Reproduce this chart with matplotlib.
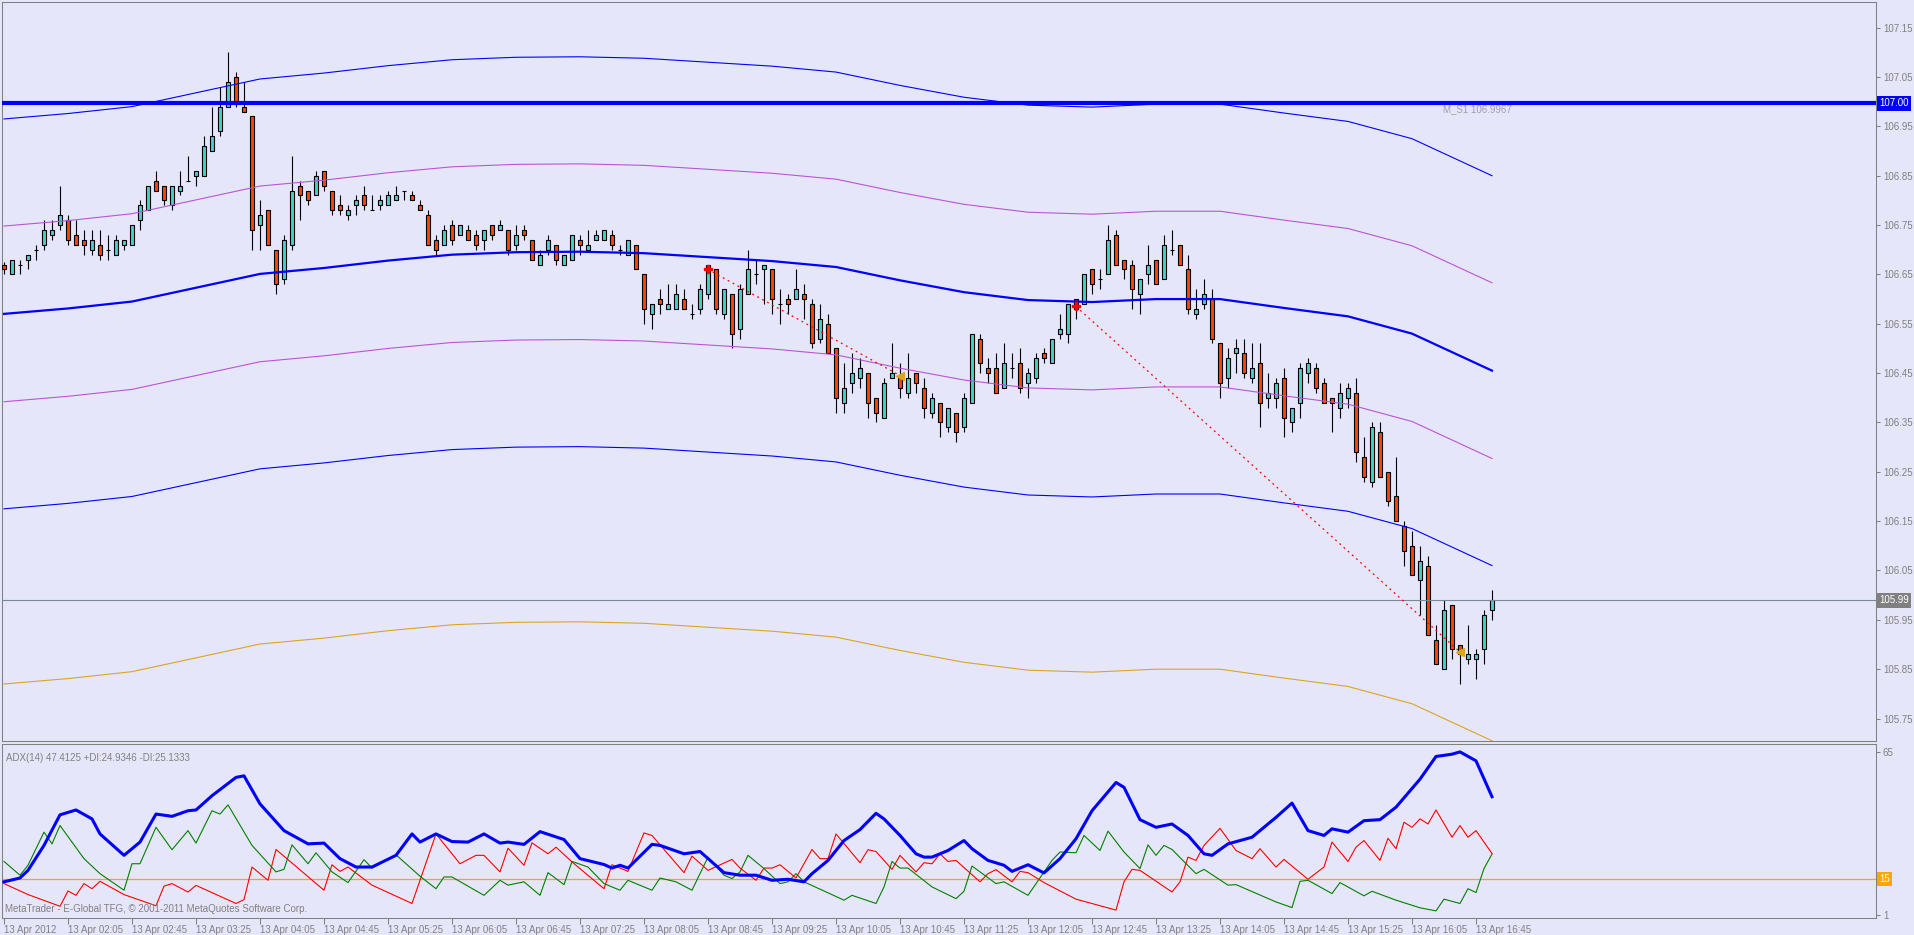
#!/usr/bin/python3

import matplotlib
matplotlib.use("Agg")
import matplotlib.pyplot as plt
import numpy as np
from matplotlib.transforms import blended_transform_factory

# USDJPY M5, 13 Apr 2012, bars 01:25 .. 16:55
opens = [
    106.67, 106.65, 106.67, 106.68, 106.70, 106.71, 106.73, 106.75, 106.76, 106.73,
    106.72, 106.70, 106.71, 106.70, 106.69, 106.71, 106.71, 106.76, 106.78, 106.84,
    106.83, 106.79, 106.82, 106.84, 106.85, 106.85, 106.90, 106.94, 106.99, 107.05,
    106.99, 106.97, 106.75, 106.78, 106.70, 106.64, 106.71, 106.83, 106.82, 106.81,
    106.86, 106.82, 106.79, 106.77, 106.79, 106.81, 106.78, 106.79, 106.79, 106.80,
    106.82, 106.81, 106.79, 106.77, 106.72, 106.71, 106.75, 106.73, 106.74, 106.73,
    106.72, 106.75, 106.74, 106.74, 106.71, 106.74, 106.72, 106.67, 106.70, 106.71,
    106.67, 106.68, 106.72, 106.70, 106.72, 106.72, 106.73, 106.70, 106.69, 106.71,
    106.65, 106.57, 106.60, 106.58, 106.58, 106.60, 106.57, 106.58, 106.61, 106.66,
    106.57, 106.61, 106.54, 106.61, 106.65, 106.66, 106.66, 106.59, 106.60, 106.60,
    106.61, 106.59, 106.52, 106.55, 106.50, 106.39, 106.43, 106.44, 106.45, 106.40,
    106.36, 106.44, 106.44, 106.41, 106.45, 106.42, 106.37, 106.39, 106.34, 106.37,
    106.34, 106.39, 106.52, 106.46, 106.46, 106.42, 106.46, 106.47, 106.43, 106.44,
    106.49, 106.47, 106.53, 106.53, 106.60, 106.59, 106.66, 106.64, 106.65, 106.73,
    106.68, 106.67, 106.61, 106.65, 106.68, 106.64, 106.70, 106.71, 106.66, 106.57,
    106.59, 106.60, 106.51, 106.44, 106.49, 106.49, 106.44, 106.47, 106.40, 106.40,
    106.44, 106.35, 106.39, 106.45, 106.46, 106.43, 106.40, 106.38, 106.40, 106.41,
    106.28, 106.23, 106.33, 106.25, 106.20, 106.14, 106.10, 106.03, 106.06, 105.91,
    105.85, 105.98, 105.90, 105.87, 105.87, 105.89, 105.97]
highs = [
    106.675, 106.68, 106.68, 106.69, 106.71, 106.76, 106.76, 106.83, 106.77, 106.76,
    106.74, 106.74, 106.74, 106.73, 106.73, 106.72, 106.75, 106.80, 106.83, 106.86,
    106.83, 106.83, 106.86, 106.89, 106.86, 106.93, 106.99, 107.03, 107.10, 107.06,
    107.04, 106.97, 106.80, 106.78, 106.70, 106.73, 106.89, 106.84, 106.82, 106.86,
    106.86, 106.82, 106.81, 106.79, 106.81, 106.83, 106.81, 106.81, 106.82, 106.83,
    106.82, 106.82, 106.80, 106.78, 106.73, 106.75, 106.76, 106.75, 106.75, 106.74,
    106.74, 106.75, 106.76, 106.74, 106.75, 106.75, 106.72, 106.70, 106.73, 106.71,
    106.69, 106.73, 106.73, 106.74, 106.74, 106.74, 106.74, 106.71, 106.72, 106.71,
    106.65, 106.59, 106.62, 106.63, 106.63, 106.62, 106.59, 106.63, 106.67, 106.66,
    106.62, 106.61, 106.63, 106.70, 106.68, 106.67, 106.66, 106.62, 106.61, 106.66,
    106.63, 106.60, 106.59, 106.57, 106.50, 106.47, 106.49, 106.48, 106.45, 106.40,
    106.44, 106.51, 106.47, 106.49, 106.45, 106.44, 106.41, 106.39, 106.38, 106.37,
    106.41, 106.53, 106.53, 106.48, 106.49, 106.51, 106.49, 106.50, 106.46, 106.49,
    106.50, 106.52, 106.57, 106.59, 106.60, 106.65, 106.66, 106.66, 106.75, 106.74,
    106.68, 106.68, 106.64, 106.71, 106.68, 106.73, 106.74, 106.71, 106.69, 106.62,
    106.64, 106.62, 106.51, 106.50, 106.52, 106.52, 106.51, 106.51, 106.45, 106.44,
    106.46, 106.38, 106.47, 106.48, 106.47, 106.44, 106.40, 106.43, 106.43, 106.44,
    106.32, 106.35, 106.35, 106.25, 106.28, 106.15, 106.13, 106.10, 106.08, 105.94,
    105.99, 105.98, 105.90, 105.94, 105.89, 105.97, 106.01]
lows = [
    106.65, 106.65, 106.65, 106.66, 106.68, 106.70, 106.72, 106.74, 106.71, 106.71,
    106.69, 106.69, 106.68, 106.68, 106.69, 106.70, 106.71, 106.74, 106.78, 106.82,
    106.79, 106.78, 106.81, 106.84, 106.83, 106.85, 106.90, 106.93, 106.99, 106.99,
    106.98, 106.70, 106.70, 106.71, 106.61, 106.63, 106.70, 106.76, 106.79, 106.81,
    106.82, 106.77, 106.77, 106.76, 106.77, 106.78, 106.78, 106.78, 106.79, 106.80,
    106.80, 106.80, 106.78, 106.71, 106.69, 106.71, 106.71, 106.73, 106.72, 106.70,
    106.70, 106.72, 106.74, 106.69, 106.70, 106.72, 106.68, 106.67, 106.69, 106.67,
    106.67, 106.68, 106.69, 106.70, 106.72, 106.72, 106.70, 106.69, 106.69, 106.66,
    106.55, 106.54, 106.57, 106.58, 106.58, 106.58, 106.56, 106.57, 106.60, 106.57,
    106.56, 106.50, 106.52, 106.61, 106.63, 106.59, 106.57, 106.55, 106.57, 106.60,
    106.56, 106.50, 106.51, 106.49, 106.37, 106.37, 106.41, 106.42, 106.36, 106.35,
    106.36, 106.44, 106.40, 106.40, 106.41, 106.36, 106.36, 106.32, 106.33, 106.31,
    106.33, 106.39, 106.45, 106.43, 106.41, 106.42, 106.44, 106.41, 106.40, 106.43,
    106.47, 106.47, 106.52, 106.51, 106.56, 106.59, 106.61, 106.62, 106.65, 106.67,
    106.64, 106.58, 106.57, 106.63, 106.63, 106.64, 106.69, 106.67, 106.57, 106.56,
    106.58, 106.51, 106.40, 106.42, 106.45, 106.44, 106.43, 106.34, 106.38, 106.38,
    106.32, 106.33, 106.36, 106.43, 106.41, 106.39, 106.33, 106.36, 106.38, 106.27,
    106.23, 106.22, 106.24, 106.18, 106.15, 106.06, 106.04, 105.96, 105.92, 105.86,
    105.85, 105.87, 105.82, 105.86, 105.83, 105.86, 105.95]
closes = [
    106.66, 106.68, 106.67, 106.69, 106.70, 106.74, 106.74, 106.77, 106.72, 106.71,
    106.71, 106.72, 106.69, 106.70, 106.72, 106.72, 106.75, 106.79, 106.83, 106.82,
    106.80, 106.83, 106.83, 106.84, 106.86, 106.91, 106.93, 106.99, 107.04, 107.00,
    106.98, 106.74, 106.77, 106.71, 106.63, 106.72, 106.82, 106.81, 106.80, 106.85,
    106.83, 106.78, 106.78, 106.78, 106.80, 106.79, 106.78, 106.80, 106.81, 106.81,
    106.82, 106.80, 106.78, 106.71, 106.70, 106.74, 106.72, 106.75, 106.72, 106.71,
    106.74, 106.73, 106.75, 106.70, 106.73, 106.73, 106.68, 106.69, 106.72, 106.68,
    106.69, 106.73, 106.71, 106.71, 106.73, 106.74, 106.71, 106.70, 106.72, 106.66,
    106.58, 106.59, 106.59, 106.59, 106.61, 106.58, 106.57, 106.62, 106.67, 106.58,
    106.62, 106.53, 106.62, 106.66, 106.65, 106.67, 106.60, 106.59, 106.59, 106.62,
    106.60, 106.51, 106.56, 106.49, 106.40, 106.42, 106.45, 106.46, 106.39, 106.37,
    106.43, 106.45, 106.42, 106.44, 106.43, 106.38, 106.40, 106.35, 106.38, 106.33,
    106.40, 106.53, 106.47, 106.45, 106.41, 106.47, 106.46, 106.42, 106.45, 106.48,
    106.48, 106.52, 106.54, 106.59, 106.58, 106.65, 106.63, 106.64, 106.72, 106.67,
    106.66, 106.62, 106.64, 106.67, 106.63, 106.71, 106.70, 106.67, 106.58, 106.58,
    106.61, 106.52, 106.43, 106.48, 106.50, 106.45, 106.46, 106.39, 106.41, 106.43,
    106.36, 106.38, 106.46, 106.47, 106.42, 106.39, 106.39, 106.41, 106.42, 106.29,
    106.24, 106.34, 106.24, 106.19, 106.15, 106.09, 106.04, 106.07, 105.92, 105.86,
    105.97, 105.89, 105.88, 105.88, 105.88, 105.96, 105.99]

time_label_bars = [0, 8, 16, 24, 32, 40, 48, 56, 64, 72, 80, 88,
                   96, 104, 112, 120, 128, 136, 144, 152, 160, 168, 176, 184]
time_labels = ["13 Apr 2012", "13 Apr 02:05", "13 Apr 02:45", "13 Apr 03:25",
               "13 Apr 04:05", "13 Apr 04:45", "13 Apr 05:25", "13 Apr 06:05",
               "13 Apr 06:45", "13 Apr 07:25", "13 Apr 08:05", "13 Apr 08:45",
               "13 Apr 09:25", "13 Apr 10:05", "13 Apr 10:45", "13 Apr 11:25",
               "13 Apr 12:05", "13 Apr 12:45", "13 Apr 13:25", "13 Apr 14:05",
               "13 Apr 14:45", "13 Apr 15:25", "13 Apr 16:05", "13 Apr 16:45"]

price_ticks = [105.75, 105.85, 105.95, 106.05, 106.15, 106.25, 106.35,
               106.45, 106.55, 106.65, 106.75, 106.85, 106.95, 107.05, 107.15]

# channel lines, read every 8 bars
band_bars = [0, 8, 16, 24, 32, 40, 48, 56, 64, 72, 80, 88, 96,
             104, 112, 120, 128, 136, 144, 152, 160, 168, 176, 184, 186]
band_mid = [106.570, 106.581, 106.595, 106.623, 106.651, 106.663, 106.678,
            106.690, 106.695, 106.696, 106.693, 106.685, 106.677, 106.665,
            106.638, 106.614, 106.598, 106.594, 106.600, 106.600, 106.582,
            106.565, 106.530, 106.470, 106.455]
band_up2 = [106.965, 106.976, 106.990, 107.018, 107.046, 107.058, 107.073,
            107.085, 107.090, 107.091, 107.088, 107.080, 107.072, 107.060,
            107.033, 107.009, 106.993, 106.989, 106.995, 106.995, 106.977,
            106.960, 106.925, 106.865, 106.850]
band_up1 = [106.748, 106.759, 106.773, 106.801, 106.829, 106.841, 106.856,
            106.868, 106.873, 106.874, 106.871, 106.863, 106.855, 106.843,
            106.816, 106.792, 106.776, 106.772, 106.778, 106.778, 106.760,
            106.743, 106.708, 106.648, 106.633]
band_dn1 = [106.392, 106.403, 106.417, 106.445, 106.473, 106.485, 106.500,
            106.512, 106.517, 106.518, 106.515, 106.507, 106.499, 106.487,
            106.460, 106.436, 106.420, 106.416, 106.422, 106.422, 106.404,
            106.387, 106.352, 106.292, 106.277]
band_dn2 = [106.175, 106.186, 106.200, 106.228, 106.256, 106.268, 106.283,
            106.295, 106.300, 106.301, 106.298, 106.290, 106.282, 106.270,
            106.243, 106.219, 106.203, 106.199, 106.205, 106.205, 106.187,
            106.170, 106.135, 106.075, 106.060]
band_dn3 = [105.820, 105.831, 105.845, 105.873, 105.901, 105.913, 105.928,
            105.940, 105.945, 105.946, 105.943, 105.935, 105.927, 105.915,
            105.888, 105.864, 105.848, 105.844, 105.850, 105.850, 105.832,
            105.815, 105.780, 105.720, 105.705]

s1_level = 106.9967
bid_price = 105.99

trade_open_bar = [88, 134]
trade_open_price = [106.66, 106.585]
trade_close_bar = [112, 182]
trade_close_price = [106.445, 105.885]

# ADX(14) panel
adx_bars = [0, 2, 3, 5, 7, 9, 11, 12, 15, 17, 19, 21, 23, 24, 26, 29, 30, 32,
            35, 38, 40, 42, 44, 46, 49, 51, 52, 54, 56, 58, 60, 62, 63, 65, 67,
            70, 72, 75, 76, 77, 78, 81, 82, 85, 87, 90, 92, 94, 96, 98, 100,
            101, 103, 105, 107, 109, 110, 112, 114, 115, 116, 118, 120, 121,
            123, 125, 126, 128, 130, 132, 134, 136, 139, 140, 142, 144, 146,
            148, 150, 151, 153, 156, 159, 161, 163, 165, 166, 168, 170, 172,
            174, 177, 179, 181, 182, 184, 186]
adx_values = [14.0, 15.5, 18.5, 28.3, 40.3, 42.2, 38.7, 32.8, 24.4, 29.6, 40.6,
              39.7, 41.9, 42.2, 47.8, 55.0, 55.6, 44.6, 34.1, 28.9, 29.2, 23.1,
              19.8, 19.8, 24.4, 32.8, 29.6, 32.8, 29.8, 29.6, 32.8, 29.2, 29.6,
              28.7, 33.7, 30.6, 23.1, 20.8, 19.4, 20.5, 19.4, 28.7, 28.3, 25.0,
              25.9, 17.6, 16.6, 16.6, 14.6, 15.0, 14.0, 17.2, 22.4, 30.2, 34.5,
              40.9, 38.7, 32.2, 25.0, 23.7, 23.7, 26.3, 30.2, 27.0, 22.4, 20.5,
              18.1, 20.7, 17.5, 23.1, 30.9, 41.9, 53.0, 51.1, 38.4, 35.4, 36.7,
              32.2, 25.0, 24.4, 28.9, 31.5, 39.3, 44.9, 34.1, 32.2, 34.8, 33.5,
              38.0, 38.4, 43.3, 54.3, 63.2, 64.1, 65.0, 61.5, 47.4]
pdi_bars = [0, 2, 3, 5, 6, 7, 10, 12, 15, 16, 17, 19, 21, 23, 24, 26, 27, 28,
            31, 34, 35, 36, 38, 39, 41, 43, 45, 46, 49, 52, 54, 55, 56, 60, 62,
            63, 65, 67, 68, 70, 71, 73, 75, 77, 78, 81, 82, 84, 86, 88, 90, 91,
            92, 93, 95, 97, 98, 99, 100, 105, 106, 109, 110, 111, 112, 113,
            116, 119, 120, 121, 124, 125, 128, 131, 132, 134, 135, 137, 138,
            140, 142, 143, 144, 145, 146, 149, 150, 153, 154, 159, 161, 162,
            163, 166, 167, 170, 171, 174, 177, 179, 180, 182, 183, 184, 185, 186]
pdi_values = [22.0, 16.6, 20.5, 33.5, 28.9, 36.1, 23.1, 17.2, 10.7, 21.1, 21.1,
              35.4, 26.6, 34.1, 29.2, 41.9, 40.6, 44.2, 28.3, 17.9, 18.9, 28.5,
              21.1, 25.4, 17.9, 13.7, 22.7, 19.4, 24.6, 16.2, 11.3, 15.9, 15.9,
              8.7, 14.6, 12.7, 14.0, 8.7, 17.6, 12.9, 22.0, 19.8, 13.3, 10.7,
              14.6, 10.7, 15.5, 14.0, 10.7, 23.7, 16.6, 15.3, 17.9, 24.4, 19.2,
              13.3, 14.0, 17.2, 14.0, 6.8, 8.7, 5.5, 12.0, 22.0, 19.4, 19.4,
              12.0, 7.4, 10.3, 20.2, 13.3, 14.0, 8.7, 22.4, 25.7, 25.4, 32.2,
              26.3, 33.9, 25.7, 19.2, 28.5, 24.4, 28.3, 26.7, 17.2, 18.9, 12.7,
              12.9, 6.1, 3.9, 14.2, 14.6, 9.4, 13.7, 8.5, 10.3, 6.8, 3.8, 2.6,
              7.2, 5.5, 11.3, 9.8, 19.2, 24.9]
mdi_bars = [0, 3, 7, 8, 9, 10, 11, 12, 15, 19, 20, 21, 23, 24, 29, 30, 31, 33,
            34, 40, 41, 42, 43, 46, 51, 54, 57, 59, 60, 62, 63, 65, 66, 68, 69,
            71, 75, 76, 78, 80, 81, 85, 86, 88, 91, 92, 94, 95, 96, 97, 99,
            101, 102, 103, 104, 107, 108, 109, 111, 112, 114, 115, 116, 117,
            118, 119, 122, 123, 124, 126, 127, 128, 130, 134, 139, 140, 141,
            142, 146, 147, 148, 149, 150, 152, 154, 156, 157, 159, 160, 163,
            165, 166, 168, 169, 170, 172, 173, 174, 175, 176, 177, 178, 179,
            181, 182, 183, 184, 186]
mdi_values = [13.3, 9.0, 4.4, 10.4, 8.7, 13.3, 11.3, 14.2, 9.0, 4.6, 12.3, 13.3,
              10.0, 12.6, 5.5, 7.0, 19.8, 14.6, 26.7, 10.7, 20.7, 18.1, 19.8,
              12.7, 5.5, 32.8, 21.1, 24.4, 24.4, 17.9, 27.2, 20.5, 29.3, 25.0,
              27.6, 21.8, 11.3, 20.7, 18.1, 33.2, 32.2, 17.6, 24.1, 18.5, 22.8,
              19.4, 14.6, 19.4, 19.4, 20.7, 15.5, 26.7, 23.1, 23.1, 32.8, 21.5,
              26.6, 25.9, 18.9, 24.4, 17.9, 21.5, 21.1, 25.0, 22.0, 22.4, 14.0,
              17.2, 18.8, 14.0, 18.1, 17.6, 13.7, 7.2, 2.9, 14.0, 18.9, 18.5,
              10.0, 14.0, 23.7, 22.4, 28.3, 35.0, 26.3, 23.1, 27.0, 19.8, 22.8,
              15.0, 19.8, 29.6, 22.0, 27.6, 30.2, 22.4, 31.1, 27.0, 37.4, 35.4,
              38.7, 36.7, 42.2, 31.5, 36.1, 31.5, 34.1, 25.1]
adx_level = 15
adx_ticks = [1, 65]

W, H = 1914, 935
BG = "#E6E6FA"
GREY = "#808080"
FONT = "Liberation Sans"
FS = 7


def px_axes(left, top, right, bottom):
    return [left / W, 1 - bottom / H, (right - left) / W, (bottom - top) / H]


def style_axes(ax):
    ax.set_facecolor(BG)
    for s in ax.spines.values():
        s.set_color(GREY)
        s.set_linewidth(0.75)
    ax.yaxis.tick_right()
    ax.tick_params(axis="y", direction="out", length=3, width=0.75,
                   colors=GREY, labelsize=FS, pad=2)


def main():
    o = np.array(opens)
    h = np.array(highs)
    l = np.array(lows)
    c = np.array(closes)
    idx = np.arange(len(o))

    fig = plt.figure(figsize=(W / 100, H / 100), dpi=100, facecolor=BG)
    ax = fig.add_axes(px_axes(2, 2, 1876, 741))
    ax2 = fig.add_axes(px_axes(2, 744, 1876, 918), sharex=ax)

    # candles
    up = c > o
    dn = c < o
    eq = c == o
    ax.vlines(idx, l, h, color="black", lw=0.8, zorder=2)
    ax.bar(idx[up], (c - o)[up], bottom=o[up], width=0.62, color="#48D1CC",
           edgecolor="black", linewidth=0.8, zorder=3)
    ax.bar(idx[dn], (o - c)[dn], bottom=c[dn], width=0.62, color="#FF4500",
           edgecolor="black", linewidth=0.8, zorder=3)
    ax.hlines(o[eq], idx[eq] - 0.31, idx[eq] + 0.31, color="black", lw=0.8,
              zorder=3)

    # channel
    ax.plot(band_bars, band_up2, color="#0000FF", lw=0.8, zorder=5)
    ax.plot(band_bars, band_up1, color="#BA55D3", lw=0.8, zorder=5)
    ax.plot(band_bars, band_mid, color="#0000FF", lw=1.6, zorder=5)
    ax.plot(band_bars, band_dn1, color="#BA55D3", lw=0.8, zorder=5)
    ax.plot(band_bars, band_dn2, color="#0000FF", lw=0.8, zorder=5)
    ax.plot(band_bars, band_dn3, color="#DAA520", lw=0.8, zorder=5)

    ax.axhline(s1_level, color="#0000FF", lw=3, zorder=6)
    ax.axhline(bid_price, color="#778899", lw=0.8, zorder=6)
    ax.text(179.9, 106.985, "M_S1 106.9967", color="#A0A0A0", fontsize=FS,
            family=FONT, va="center", ha="left", zorder=7)

    # trade history
    for ob, op, cb, cp in zip(trade_open_bar, trade_open_price,
                              trade_close_bar, trade_close_price):
        ax.plot([ob, cb], [op, cp], color="#FF0000", lw=0.9,
                linestyle=(0, (1.5, 3)), zorder=6)
        ax.plot(ob, op, marker="P", color="#FF0000", markersize=6, zorder=7)
        ax.plot(cb, cp, marker="<", color="#DAA520", markersize=6, zorder=7)

    ax.set_xlim(-0.25, 234)
    ax.set_ylim(105.7045, 107.202)
    style_axes(ax)
    ax.set_yticks(price_ticks)
    ax.set_yticklabels(["%.2f" % p for p in price_ticks], family=FONT)
    ax.tick_params(axis="x", bottom=False, labelbottom=False)

    tr = blended_transform_factory(ax.transAxes, ax.transData)
    ax.text(1.0 + 3 / 1874, s1_level, "107.00", transform=tr, color="white",
            fontsize=FS, family=FONT, va="center", ha="left", zorder=10,
            bbox=dict(boxstyle="square,pad=0.25", fc="#0000FF", ec="none"))
    ax.text(1.0 + 3 / 1874, bid_price, "%.2f" % bid_price, transform=tr,
            color="white", fontsize=FS, family=FONT, va="center", ha="left",
            zorder=10,
            bbox=dict(boxstyle="square,pad=0.25", fc=GREY, ec="none"))

    # ADX panel
    ax2.plot(mdi_bars, mdi_values, color="#FF0000", lw=0.8, zorder=3)
    ax2.plot(pdi_bars, pdi_values, color="#008000", lw=0.8, zorder=3)
    ax2.plot(adx_bars, adx_values, color="#0000FF", lw=2.2, zorder=4)
    ax2.axhline(adx_level, color="#FFA500", lw=0.9, zorder=2)
    ax2.set_ylim(-0.2, 68.1)
    style_axes(ax2)
    ax2.set_yticks(adx_ticks)
    ax2.set_yticklabels([str(t) for t in adx_ticks], family=FONT)
    tr2 = blended_transform_factory(ax2.transAxes, ax2.transData)
    ax2.text(1.0 + 3 / 1874, adx_level, str(adx_level), transform=tr2,
             color="white", fontsize=FS, family=FONT, va="center",
             ha="left", zorder=10,
             bbox=dict(boxstyle="square,pad=0.2", fc="#FFA500", ec="none"))

    ax2.text(0.002, 0.92, "ADX(14) 47.4125 +DI:24.9346 -DI:25.1333",
             transform=ax2.transAxes, color=GREY, fontsize=FS, family=FONT,
             va="center", ha="left")
    ax2.text(0.0016, 0.05,
             "MetaTrader - E-Global TFG, \u00a9 2001-2011 MetaQuotes Software Corp.",
             transform=ax2.transAxes, color=GREY, fontsize=FS, family=FONT,
             va="center", ha="left")

    ax2.set_xticks(time_label_bars)
    ax2.set_xticklabels(time_labels, family=FONT)
    ax2.tick_params(axis="x", direction="out", length=4, width=0.75,
                    colors=GREY, labelsize=FS, pad=1)
    plt.setp(ax2.get_xticklabels(), ha="left")

    fig.savefig("out.png", dpi=100, facecolor=BG)


if __name__ == "__main__":
    main()
